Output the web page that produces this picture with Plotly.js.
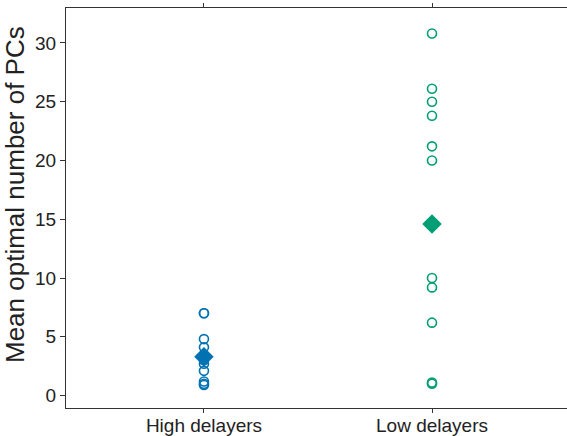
<!DOCTYPE html>
<html>
<head>
<meta charset="utf-8">
<script src="https://cdn.plot.ly/plotly-3.0.1.min.js"></script>
<style>html,body{margin:0;padding:0;background:#fff}#chart{width:567px;height:436px}</style>
</head>
<body>
<div id="chart"></div>
<script>
var categories = ["High delayers", "Low delayers"];
var highValues = [7.0, 7.0, 4.8, 4.1, 3.0, 2.7, 2.1, 1.2, 1.0, 0.9];
var lowValues = [30.8, 26.1, 25.0, 23.8, 21.2, 20.0, 10.0, 9.2, 6.2, 1.1, 1.0];
var groupMeans = [3.3, 14.6];
var colors = ["#0072B2", "#009E73"];
var yTicks = [0, 5, 10, 15, 20, 25, 30];
var yTitle = "Mean optimal number of PCs";

function repeat(cat, n) { var a = []; for (var i = 0; i < n; i++) a.push(cat); return a; }

var traces = [
  {x: repeat(categories[0], highValues.length), y: highValues, type: "scatter", mode: "markers",
   marker: {symbol: "circle-open", size: 9, color: colors[0], line: {width: 1.6}}, hoverinfo: "y"},
  {x: repeat(categories[1], lowValues.length), y: lowValues, type: "scatter", mode: "markers",
   marker: {symbol: "circle-open", size: 9, color: colors[1], line: {width: 1.6}}, hoverinfo: "y"},
  {x: categories, y: groupMeans, type: "scatter", mode: "markers",
   marker: {symbol: "diamond", size: 15, color: colors}, hoverinfo: "y"}
];

var layout = {
  width: 567, height: 436,
  margin: {l: 66, r: 0, t: 8, b: 28},
  showlegend: false,
  paper_bgcolor: "#fff", plot_bgcolor: "#fff",
  font: {family: "Liberation Sans, Arial, sans-serif", color: "#222", size: 18},
  xaxis: {
    type: "category", range: [-0.605, 1.592], showgrid: false, zeroline: false,
    showline: true, linecolor: "#333", linewidth: 1, mirror: "ticks",
    ticks: "outside", ticklen: 4, tickcolor: "#333",
    tickfont: {size: 19, color: "#222"}, ticklabelstandoff: -4
  },
  yaxis: {
    range: [-1.06, 32.97], tickvals: yTicks, ticktext: yTicks.map(String),
    showgrid: false, zeroline: false, showline: true, linecolor: "#333", linewidth: 1,
    ticks: "outside", ticklen: 5, tickcolor: "#333",
    tickfont: {size: 19, color: "#222"}
  },
  annotations: [{
    text: yTitle, xref: "paper", yref: "paper", x: -0.1018, y: 0.535,
    xanchor: "center", yanchor: "middle", textangle: -90, showarrow: false,
    font: {size: 26, color: "#222"}
  }]
};

Plotly.newPlot("chart", traces, layout, {displayModeBar: false, staticPlot: true});
</script>
</body>
</html>
